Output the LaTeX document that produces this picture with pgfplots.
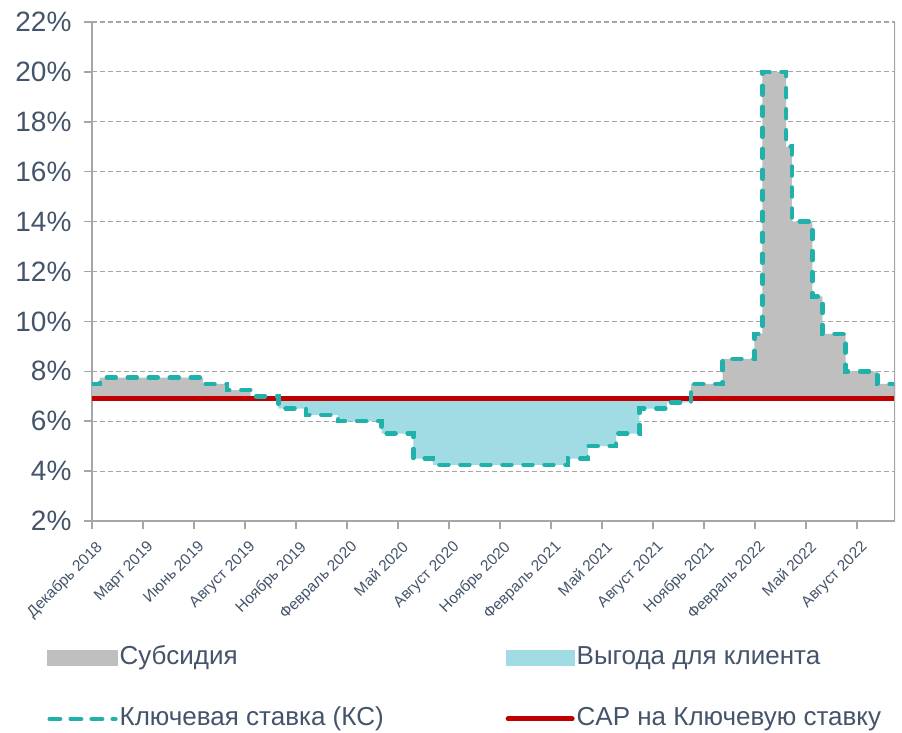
\documentclass[border=0pt]{standalone}
\usepackage{fontspec}
\setmainfont{Liberation Sans}
\usepackage{pgfplots}
\usepackage{pgfplotstable}
\pgfplotsset{compat=1.18}
\usepgfplotslibrary{fillbetween}
\usetikzlibrary{calc}
\definecolor{txt}{RGB}{68,84,106}
\definecolor{axgray}{RGB}{166,166,166}
\definecolor{subsgray}{RGB}{191,191,191}
\definecolor{benblue}{RGB}{161,219,227}
\definecolor{keyteal}{RGB}{32,178,170}
\definecolor{capred}{RGB}{192,0,0}
\pgfplotstableread{
d r
0 7.5
14 7.75
196 7.5
238 7.25
280 7.0
329 6.5
378 6.25
434 6.0
511 5.5
567 4.5
602 4.25
840 4.5
875 5.0
925 5.5
966 6.5
1015 6.75
1057 7.5
1113 8.5
1169 9.5
1183 20
1225 17
1235 14
1271 11
1289 9.5
1330 8.0
1386 7.5
1417 7.5
}\keyrate
\pgfplotstableread{
d r
0 7.5
14 7.75
196 7.5
238 7.25
280 7.0
329 6.92
1057 7.5
1113 8.5
1169 9.5
1183 20
1225 17
1235 14
1271 11
1289 9.5
1330 8.0
1386 7.5
1417 7.5
}\subsidy
\pgfplotstableread{
d r
0 6.92
329 6.5
378 6.25
434 6.0
511 5.5
567 4.5
602 4.25
840 4.5
875 5.0
925 5.5
966 6.5
1015 6.75
1057 6.92
1417 6.92
}\benefit
\begin{document}
\begin{tikzpicture}
\begin{axis}[
  scale only axis, width=803pt, height=499pt,
  xmin=0, xmax=1417, ymin=2, ymax=22,
  axis x line*=bottom, axis y line*=left,
  axis line style={axgray, line width=1.5pt},
  tick style={axgray, line width=1.5pt},
  tick align=outside, major tick length=8pt,
  ytick={2,4,...,22},
  yticklabel={\pgfmathprintnumber{\tick}\%},
  /pgf/number format/assume math mode=true,
  yticklabel style={font=\fontsize{28}{32}\selectfont, text=txt, xshift=-9pt},
  xtick={0,90,...,1350},
  xticklabels={Декабрь 2018, Март 2019, Июнь 2019, Август 2019, Ноябрь 2019, Февраль 2020, Май 2020, Август 2020, Ноябрь 2020, Февраль 2021, Май 2021, Август 2021, Ноябрь 2021, Февраль 2022, Май 2022, Август 2022},
  xticklabel style={yshift=-8pt, xshift=3pt, font=\fontsize{15.5}{18}\selectfont, text=txt, rotate=45, anchor=north east, inner sep=2pt},
  ymajorgrids,
  major grid style={axgray, line width=1.2pt, dash pattern=on 5pt off 3pt},
  legend columns=2,
  legend style={at={(-0.056,-0.246)}, anchor=north west, draw=none, fill=none,
    font=\fontsize{26}{30}\selectfont, text=txt, inner sep=0pt,
    nodes={inner sep=2pt, text height=19pt, text depth=5pt},
    row sep=33pt,
    /tikz/every even column/.append style={column sep=120pt}},
  legend cell align=left,
]
\addplot[name path=A, draw=none, const plot, forget plot] table {\subsidy};
\addplot[name path=B, draw=none, const plot, forget plot] table {\benefit};
\addplot[name path=C, draw=none, forget plot] coordinates {(0,6.92) (1417,6.92)};
\addplot[fill=subsgray, draw=none, forget plot] fill between[of=A and C];
\addplot[fill=benblue, draw=none, forget plot] fill between[of=B and C];
\addplot[capred, line width=5pt, forget plot] coordinates {(0,6.92) (1417,6.92)};
\addplot[keyteal, line width=4.5pt, line cap=round, dash pattern=on 9pt off 12pt, const plot, forget plot] table {\keyrate};
\draw[axgray, line width=1.5pt] (rel axis cs:1,0) -- (rel axis cs:1,1);
\coordinate (SW) at (rel axis cs:0,0);
\coordinate (NE) at (rel axis cs:1,1);
\addlegendimage{legend image code/.code={\fill[subsgray] (0pt,-7.5pt) rectangle (70pt,7.5pt);}}
\addlegendentry{Субсидия}
\addlegendimage{legend image code/.code={\fill[benblue] (0pt,-7.5pt) rectangle (68pt,7.5pt);}}
\addlegendentry{Выгода для клиента}
\addlegendimage{legend image code/.code={\draw[keyteal, line width=4.5pt, line cap=round, dash pattern=on 10.5pt off 10.5pt] (2.25pt,0) -- (68pt,0);}}
\addlegendentry{Ключевая ставка (КС)}
\addlegendimage{legend image code/.code={\draw[capred, line width=5pt, line cap=round] (2pt,0) -- (66pt,0);}}
\addlegendentry{CAP на Ключевую ставку}
\end{axis}
\path ($(SW)+(-92pt,-209pt)$) rectangle ($(NE)+(7pt,22pt)$);
\end{tikzpicture}
\end{document}
